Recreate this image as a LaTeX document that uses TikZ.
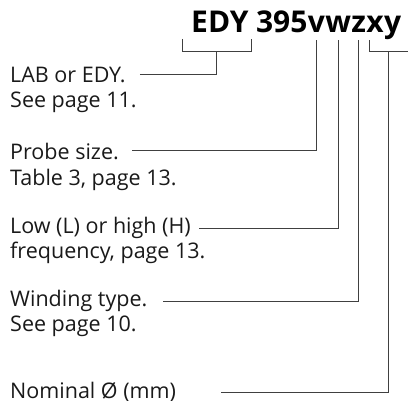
\documentclass[tikz,border=0pt]{standalone}
\usepackage{fontspec}
\usepackage{xcolor}
\usepackage{tikz}
\usetikzlibrary{calc,positioning}
\newfontfamily\partfont{Open Sans}
\tikzset{
  partpicture/.style={x=1pt, y=1pt},
  partcode/.style={inner sep=0pt, anchor=base west, font=\partfont\bfseries\fontsize{30}{35}\selectfont},
  partlabel/.style={inner sep=0pt, anchor=base west, font=\partfont\fontsize{21.5}{25}\selectfont, text=black!90},
  partlead/.style={draw=black!75, line width=1pt}
}

\begin{document}
\begin{tikzpicture}[partpicture]
\useasboundingbox (0,0) rectangle (408,400);
% type code
\node[partcode] (edy) at (191,367) {EDY};
\node[partcode] (num) at ([xshift=7pt]edy.base east) {395};
\node[partcode] (v) at (num.base east) {v};
\node[partcode] (w) at (v.base east) {w};
\node[partcode] (z) at (w.base east) {z};
\node[partcode] (x) at (z.base east) {x};
\node[partcode] (y) at (x.base east) {y};
% labels
\node[partlabel] (lab) at (10,317) {LAB or EDY.};
\node[partlabel] (labref) at (10,292) {See page 11.};
\node[partlabel] (size) at (10,240.5) {Probe size.};
\node[partlabel] (sizeref) at (10,214.5) {Table 3, page 13.};
\node[partlabel] (freq) at (10,167) {Low (L) or high (H)};
\node[partlabel] (freqref) at (10,142) {frequency, page 13.};
\node[partlabel] (wind) at (10,93.3) {Winding type.};
\node[partlabel] (windref) at (10,68.3) {See page 10.};
\node[partlabel] (diam) at (10,1.7) {Nominal Ø (mm)};
% brackets
\coordinate (edyleft) at ([xshift=-9pt,yshift=-6pt]edy.base west);
\coordinate (edyright) at ([xshift=3pt,yshift=-6pt]edy.base east);
\draw[partlead] (edyleft) -- ++(0,-13) -| (edyright);
\coordinate (edyjoin) at ($(edyleft)!0.5!(edyright)+(0,-13)$);
\coordinate (xyleft) at ([xshift=3.5pt,yshift=-7.5pt]x.base west);
\coordinate (xyright) at (408,359.5);
\draw[partlead] (xyleft) -- ++(0,-11.5) -- ($(xyright)+(0,-11.5)$);
\coordinate (xyjoin) at ($(xyleft)!0.5!(xyright)+(0,-11.5)$);
% leads
\draw[partlead] ([xshift=14pt,yshift=8pt]lab.base east) -| (edyjoin);
\draw[partlead] ([xshift=13pt,yshift=8.5pt]size.base east) -| ([yshift=-7.5pt]v.base);
\draw[partlead] ([xshift=8pt,yshift=4.7pt]freq.base east) -| ([yshift=-7.5pt]w.base);
\draw[partlead] ([xshift=16pt,yshift=5.5pt]wind.base east) -| ([yshift=-7.5pt]z.base);
\draw[partlead] ([xshift=45pt,yshift=6pt]diam.base east) -| (xyjoin);
\end{tikzpicture}
\end{document}
